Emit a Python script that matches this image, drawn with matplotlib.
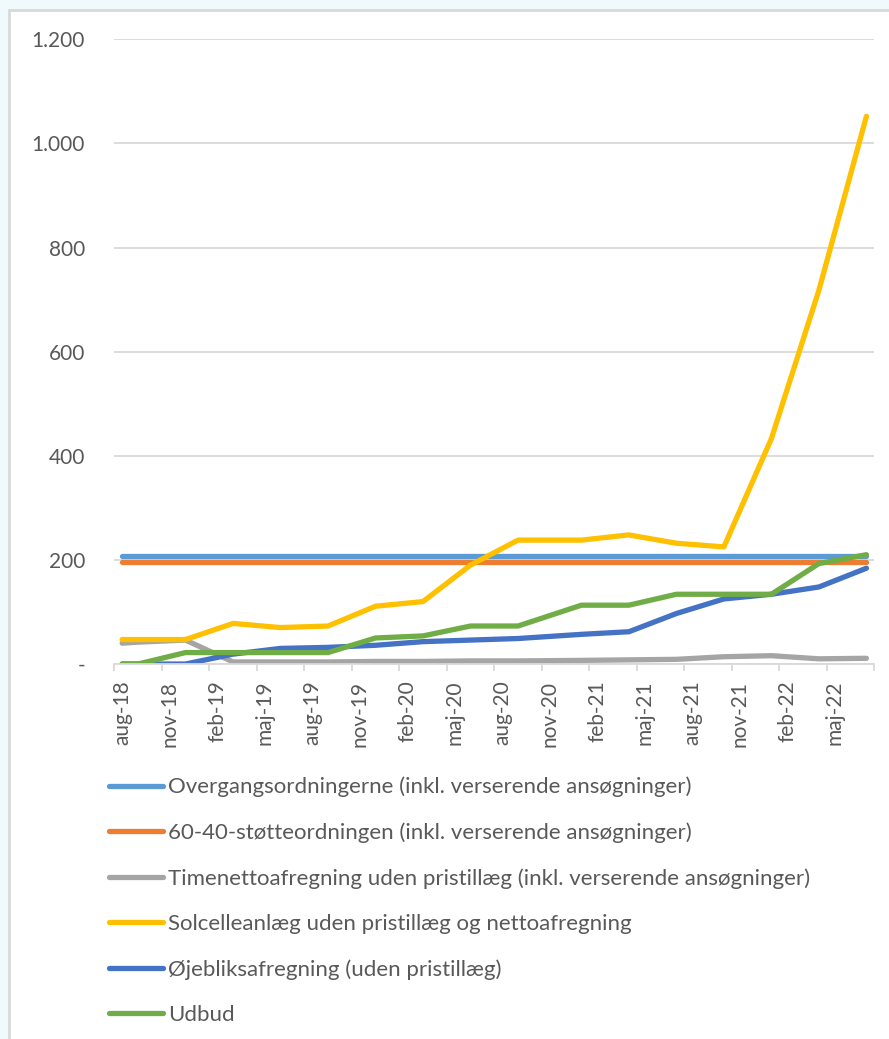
import numpy as np
import pandas as pd
import matplotlib.pyplot as plt
from matplotlib.patches import Rectangle

plt.rcParams['font.family'] = ['Lato', 'DejaVu Sans']

# observation months
dates = ['2018-08', '2018-09', '2018-12', '2019-03', '2019-06', '2019-09',
         '2019-12', '2020-03', '2020-06', '2020-09', '2021-01', '2021-04',
         '2021-07', '2021-10', '2022-01', '2022-04', '2022-07']

overgang = [207] * 17
stoette_60_40 = [196] * 17
timenetto = [40, 42, 46, 4, 4, 4, 5, 5, 6, 6, 7, 8, 9, 14, 16, 10, 11]
solcelle = [47, 47, 47, 78, 70, 73, 111, 120, 190, 238, 238, 248, 232, 225,
            433, 718, 1052]
oejebliks = [0, 0, 0, 19, 30, 32, 36, 43, 46, 49, 57, 62, 97, 125, 134, 148,
             184]
udbud = [0, 0, 22, 22, 22, 22, 50, 54, 73, 73, 113, 113, 134, 134, 134, 193,
         210]

names = ['Overgangsordningerne (inkl. verserende ansøgninger)',
         '60-40-støtteordningen (inkl. verserende ansøgninger)',
         'Timenettoafregning uden pristillæg (inkl. verserende ansøgninger)',
         'Solcelleanlæg uden pristillæg og nettoafregning',
         'Øjebliksafregning (uden pristillæg)',
         'Udbud']
colors = ['#5B9BD5', '#ED7D31', '#A5A5A5', '#FFC000', '#4472C4', '#70AD47']

x_labels = ['aug-18', 'nov-18', 'feb-19', 'maj-19', 'aug-19', 'nov-19',
            'feb-20', 'maj-20', 'aug-20', 'nov-20', 'feb-21', 'maj-21',
            'aug-21', 'nov-21', 'feb-22', 'maj-22']
y_ticks = [0, 200, 400, 600, 800, 1000, 1200]
y_labels = ['-', '200', '400', '600', '800', '1.000', '1.200']

# months since aug-18
start = pd.Period('2018-08', 'M')
x = np.array([(pd.Period(d, 'M') - start).n for d in dates])

fig = plt.figure(figsize=(8.89, 10.39), dpi=100, facecolor='#F0FAFD')
fig.patches.append(Rectangle((9 / 889, -0.1), 1.2, (1039 - 10) / 1039 + 0.1,
                             transform=fig.transFigure, facecolor='white',
                             edgecolor='#D9D9D9', linewidth=2, zorder=-5))
ax = fig.add_axes([0.1285, 0.3609, 0.855, 0.6013])
ax.set_facecolor('none')

series = [overgang, stoette_60_40, timenetto, solcelle, oejebliks, udbud]
lines = []
for vals, name, c in zip(series, names, colors):
    ln, = ax.plot(x, vals, color=c, lw=3.8, label=name,
                  solid_capstyle='round', solid_joinstyle='round')
    lines.append(ln)

ax.set_xlim(-0.5, 47.5)
ax.set_ylim(0, 1200)
ax.set_yticks(y_ticks)
ax.set_yticklabels(y_labels)
ax.grid(axis='y', color='#D9D9D9', lw=1.3)
ax.set_axisbelow(True)

ax.set_xticks(np.arange(-0.5, 48, 3))
ax.set_xticklabels([])
ax.set_xticks(np.arange(0, 48, 3), minor=True)
ax.set_xticklabels(x_labels, minor=True, rotation=90)
ax.tick_params(axis='x', which='major', length=5, color='#D9D9D9', width=1.3)
ax.tick_params(axis='x', which='minor', length=0, pad=12,
               labelsize=15, labelcolor='#595959')
ax.tick_params(axis='y', length=0, pad=21, labelsize=15, labelcolor='#595959')

for s in ['top', 'right', 'left']:
    ax.spines[s].set_visible(False)
ax.spines['bottom'].set_color('#D9D9D9')
ax.spines['bottom'].set_linewidth(1.3)

fig.legend(handles=lines, loc='upper left',
           bbox_to_anchor=(100 / 889, 1 - 768 / 1039), frameon=False,
           fontsize=16, labelcolor='#595959', handlelength=2.45,
           handletextpad=0.22, labelspacing=1.13, borderaxespad=0)

fig.savefig('out.png', dpi=100, facecolor=fig.get_facecolor())
